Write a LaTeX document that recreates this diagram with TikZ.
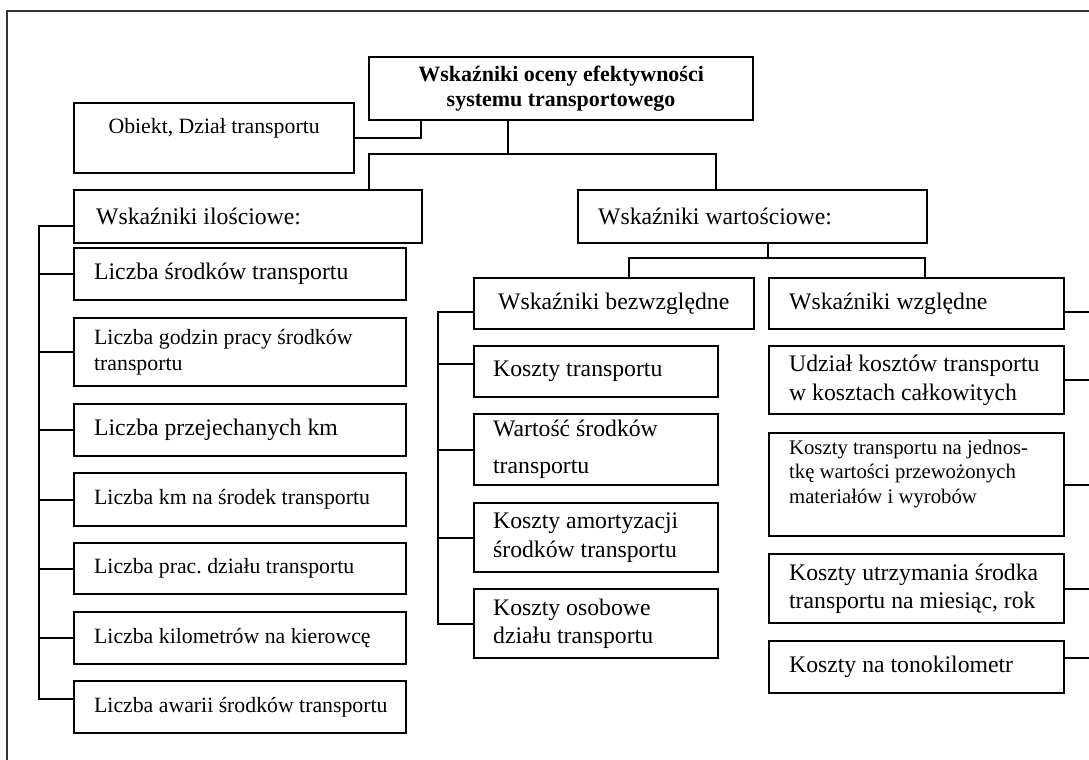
\documentclass[tikz,border=0pt]{standalone}
\usepackage{fontspec}
\setmainfont{Liberation Serif}
\usetikzlibrary{calc}
\usetikzlibrary{positioning}
\newcommand{\txtL}{\fontsize{13.5}{16.2}\selectfont}
\newcommand{\txtM}{\fontsize{12.4}{14.9}\selectfont}
\newcommand{\txtS}{\fontsize{11.8}{14.2}\selectfont}
\newcommand{\txtT}{\fontsize{12.5}{14.5}\selectfont\bfseries}
\tikzset{pad/.style={execute at begin node={\leftskip=#1}}}
\tikzstyle{box} = [draw, rectangle, line width=1.3pt, anchor=north west, inner ysep=0pt, inner xsep=0.1cm, align=flush left, pad=0.3cm]
\tikzstyle{wire} = [line width=1.1pt]
\tikzstyle{colL} = [minimum width=6.64cm, text width=6.44cm]
\tikzstyle{colB} = [minimum width=4.88cm, text width=4.68cm, pad=0.28cm]
\tikzstyle{colR} = [minimum width=5.9cm, text width=5.7cm]

\begin{document}
\begin{tikzpicture}[x=0.02cm, y=-0.02cm]
  \useasboundingbox (0,0) rectangle (1089,760);
  \draw[line width=0.8pt, black!80] (7,760) -- (7,11) -- (1089,11);

  % top level
  \node[box, align=center, pad=0pt, minimum width=7.68cm, minimum height=1.26cm, font=\txtT] (top) at (368,56) {Wskaźniki oceny efektywności\\systemu transportowego};
  \node[box, align=center, pad=0pt, minimum width=5.6cm, minimum height=1.4cm, text height=8.5pt, text depth=14pt, font=\txtM] (obj) at (73,102) {Obiekt, Dział transportu};
  \node[box, minimum width=6.96cm, minimum height=1.06cm, text width=6.76cm, pad=0.34cm, font=\txtL] (ilo) at (73,189) {Wskaźniki ilościowe:};
  \node[box, minimum width=6.98cm, minimum height=1.06cm, text width=6.78cm, font=\txtL] (wart) at (577,189) {Wskaźniki wartościowe:};

  \coordinate (tap) at (421,0);
  \coordinate (split) at (508,154);
  \coordinate (split_l) at (369,154);
  \coordinate (split_r) at (716,154);
  \draw[wire] (obj.east) -| (top.south -| tap);
  \draw[wire] (top.south -| split) -- (split);
  \draw[wire] (ilo.north -| split_l) -- (split_l) -- (split_r) -- (wart.north -| split_r);

  % ilosciowe
  \node[box, colL, minimum height=1.04cm, font=\txtL] (ilo_1) at (73,247) {Liczba środków transportu};
  \node[box, colL, minimum height=1.36cm, font=\txtM] (ilo_2) at (73,317) {Liczba godzin pracy środków\\transportu};
  \node[box, colL, minimum height=1.04cm, font=\txtL] (ilo_3) at (73,403) {Liczba przejechanych km};
  \node[box, colL, minimum height=1.06cm, font=\txtM] (ilo_4) at (73,472) {Liczba km na środek transportu};
  \node[box, colL, minimum height=1.02cm, font=\txtM] (ilo_5) at (73,542) {Liczba prac.\ działu transportu};
  \node[box, colL, minimum height=1.04cm, font=\txtM] (ilo_6) at (73,611) {Liczba kilometrów na kierowcę};
  \node[box, colL, minimum height=1.04cm, font=\txtM] (ilo_7) at (73,680) {Liczba awarii środków transportu};

  \coordinate (bus_l) at (39,0);
  \coordinate (ilo_in) at ($(ilo.west)+(0,9)$);
  \coordinate (ilo_7_in) at ($(ilo_7.west)+(0,-8)$);
  \draw[wire] (ilo_in) -| (bus_l |- ilo_7_in) -- (ilo_7_in);
  \draw[wire] (ilo_1.west) -- (ilo_1.west -| bus_l);
  \draw[wire] (ilo_2.west) -- (ilo_2.west -| bus_l);
  \draw[wire] (ilo_3.west) -- (ilo_3.west -| bus_l);
  \draw[wire] (ilo_4.west) -- (ilo_4.west -| bus_l);
  \draw[wire] (ilo_5.west) -- (ilo_5.west -| bus_l);
  \draw[wire] (ilo_6.west) -- (ilo_6.west -| bus_l);

  % wartosciowe
  \node[box, minimum width=5.6cm, minimum height=1.02cm, text width=5.4cm, pad=0.38cm, font=\txtL] (bez) at (473,277) {Wskaźniki bezwzględne};
  \node[box, colR, minimum height=1.02cm, font=\txtL] (wzg) at (768,277) {Wskaźniki względne};

  \coordinate (fork) at (768,258);
  \coordinate (fork_l) at (629,258);
  \coordinate (fork_r) at (925,258);
  \draw[wire] (wart.south -| fork) -- (fork);
  \draw[wire] (bez.north -| fork_l) -- (fork_l) -- (fork_r) -- (wzg.north -| fork_r);

  \node[box, colB, minimum height=1.02cm, font=\txtL] (bez_1) at (473,345) {Koszty transportu};
  \node[box, colB, minimum height=1.42cm, font=\txtL] (bez_2) at (473,413) {Wartość środków\\[5pt]transportu};
  \node[box, colB, minimum height=1.38cm, font=\txtL] (bez_3) at (473,502) {Koszty amortyzacji\\środków transportu};
  \node[box, colB, minimum height=1.38cm, font=\txtL] (bez_4) at (473,588) {Koszty osobowe\\działu transportu};

  \coordinate (bus_b) at (438,0);
  \coordinate (bez_in) at ($(bez.west)+(0,8)$);
  \coordinate (bez_1_in) at ($(bez_1.west)+(0,-8)$);
  \draw[wire] (bez_in) -| (bus_b |- bez_4.west) -- (bez_4.west);
  \draw[wire] (bez_1_in) -- (bez_1_in -| bus_b);
  \draw[wire] (bez_2.west) -- (bez_2.west -| bus_b);
  \draw[wire] (bez_3.west) -- (bez_3.west -| bus_b);

  \node[box, colR, minimum height=1.36cm, font=\txtL] (wzg_1) at (768,345) {Udział kosztów transportu\\w kosztach całkowitych};
  \node[box, colR, minimum height=2.06cm, text depth=43pt, font=\txtS] (wzg_2) at (768,432) {Koszty transportu na jednos-\\tkę wartości przewożonych\\materiałów i wyrobów};
  \node[box, colR, minimum height=1.38cm, font=\txtL] (wzg_3) at (768,553) {Koszty utrzymania środka\\transportu na miesiąc, rok};
  \node[box, colR, minimum height=1.04cm, font=\txtL] (wzg_4) at (768,640) {Koszty na tonokilometr};

  \coordinate (bus_r) at (1089,0);
  \coordinate (wzg_out) at ($(wzg.east)+(0,8)$);
  \coordinate (wzg_4_out) at ($(wzg_4.east)+(0,-9)$);
  \draw[wire] (wzg_out) -- (wzg_out -| bus_r);
  \draw[wire] (wzg_1.east) -- (wzg_1.east -| bus_r);
  \draw[wire] (wzg_2.east) -- (wzg_2.east -| bus_r);
  \draw[wire] (wzg_3.east) -- (wzg_3.east -| bus_r);
  \draw[wire] (wzg_4_out) -- (wzg_4_out -| bus_r);
\end{tikzpicture}
\end{document}
